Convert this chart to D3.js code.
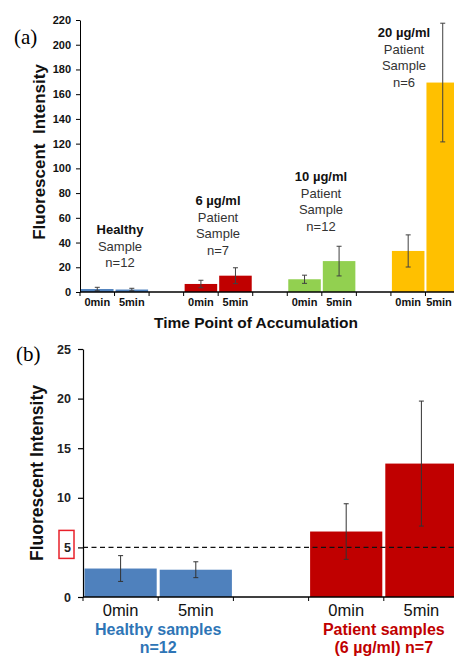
<!DOCTYPE html>
<html>
<head>
<meta charset="utf-8">
<script src="https://cdn.jsdelivr.net/npm/d3@7"></script>
<style>
  body { margin: 0; background: #fff; }
  svg { display: block; font-family: Arial, "Liberation Sans", sans-serif; }
</style>
</head>
<body>
<div id="chart"></div>
<script>
// ---- data, panel (a) ----
const groupsA = ["Healthy", "6 µg/ml", "10 µg/ml", "20 µg/ml"];
const timesA = ["0min", "5min"];
const meansA = [[2.4, 2.0], [6.5, 13.2], [10.3, 25.0], [33.2, 169.4]];
const errsA = [[1.4, 1.0], [3.0, 6.4], [3.3, 12.0], [13.0, 48.0]];
const colorsA = ["#4f81bd", "#c00000", "#92d050", "#ffc000"];
const notesA = [
  ["Healthy", "Sample", "n=12"],
  ["6 µg/ml", "Patient", "Sample", "n=7"],
  ["10 µg/ml", "Patient", "Sample", "n=12"],
  ["20 µg/ml", "Patient", "Sample", "n=6"]
];
const ticksA = [0, 20, 40, 60, 80, 100, 120, 140, 160, 180, 200, 220];

// ---- data, panel (b) ----
const groupsB = ["Healthy samples", "Patient samples"];
const subB = [["n=12"], ["(6 µg/ml) n=7"]];
const timesB = ["0min", "5min"];
const meansB = [[2.87, 2.75], [6.6, 13.45]];
const errsB = [[1.3, 0.8], [2.8, 6.3]];
const colorsB = ["#4f81bd", "#c00000"];
const textColorsB = ["#2e75b6", "#c00000"];
const ticksB = [0, 5, 10, 15, 20, 25];
const thresholdB = 5;

const W = 454, H = 657;
const svg = d3.select("#chart").append("svg").attr("width", W).attr("height", H);

// slots: 0min, 5min, gap, 0min, 5min, gap ...
function makeSlots(groups, times) {
  const s = [];
  groups.forEach((g, i) => {
    times.forEach(t => s.push(g + "|" + t));
    if (i < groups.length - 1) s.push("gap" + i);
  });
  return s;
}
function flatten(groups, times, means, errs, colors) {
  const out = [];
  groups.forEach((g, i) => times.forEach((t, j) => out.push({
    key: g + "|" + t, group: i, time: t, v: means[i][j], e: errs[i][j], color: colors[i]
  })));
  return out;
}

// =================== panel (a) ===================
const xA = d3.scaleBand().domain(makeSlots(groupsA, timesA)).range([80, 460]);
const yA = d3.scaleLinear().domain([0, 220]).range([292, 20]);
const barsA = flatten(groupsA, timesA, meansA, errsA, colorsA);
const gA = svg.append("g");

gA.selectAll(".barA").data(barsA).join("rect")
  .attr("class", "barA")
  .attr("x", d => xA(d.key) + 1)
  .attr("width", xA.bandwidth() - 2)
  .attr("y", d => yA(d.v))
  .attr("height", d => yA(0) - yA(d.v))
  .attr("fill", d => d.color);

const errA = gA.selectAll(".errA").data(barsA).join("g").attr("class", "errA")
  .attr("stroke", "#404040").attr("stroke-width", 1);
errA.append("line")
  .attr("x1", d => xA(d.key) + xA.bandwidth() / 2).attr("x2", d => xA(d.key) + xA.bandwidth() / 2)
  .attr("y1", d => yA(d.v + d.e)).attr("y2", d => yA(Math.max(0, d.v - d.e)));
[d => d.v + d.e, d => Math.max(0, d.v - d.e)].forEach(f => {
  errA.append("line")
    .attr("x1", d => xA(d.key) + xA.bandwidth() / 2 - 2.5)
    .attr("x2", d => xA(d.key) + xA.bandwidth() / 2 + 2.5)
    .attr("y1", d => yA(f(d))).attr("y2", d => yA(f(d)));
});

const axisA = gA.append("g").attr("transform", "translate(80,0)")
  .call(d3.axisLeft(yA).tickValues(ticksA).tickSize(4).tickSizeOuter(0).tickPadding(5));
axisA.selectAll("text").attr("font-size", 11).attr("font-weight", "bold").attr("fill", "#111");
axisA.selectAll("line, path").attr("stroke", "#000");

// x axis with ticks at slot boundaries
gA.append("line").attr("x1", 80).attr("x2", 460).attr("y1", yA(0)).attr("y2", yA(0))
  .attr("stroke", "#000").attr("stroke-width", 1.3);
const boundsA = xA.domain().map(k => xA(k)).concat([xA.range()[1]]);
gA.selectAll(".tickXA").data(boundsA).join("line")
  .attr("x1", d => d).attr("x2", d => d)
  .attr("y1", yA(0)).attr("y2", yA(0) + 4)
  .attr("stroke", "#000");
gA.selectAll(".lblXA").data(barsA).join("text")
  .attr("x", d => Math.min(xA(d.key) + xA.bandwidth() / 2, W - 15))
  .attr("y", 306)
  .attr("text-anchor", "middle")
  .attr("font-size", 11).attr("font-weight", "bold").attr("fill", "#111")
  .text(d => d.time);

gA.append("text").attr("x", 256).attr("y", 328).attr("text-anchor", "middle")
  .attr("font-size", 15.5).attr("font-weight", "bold").attr("fill", "#111")
  .text("Time Point of Accumulation");

gA.append("text").attr("transform", "translate(45,152) rotate(-90)")
  .attr("text-anchor", "middle").attr("font-size", 17).attr("font-weight", "bold").attr("fill", "#111")
  .attr("xml:space", "preserve")
  .text("Fluorescent  Intensity");

gA.append("text").attr("x", 14).attr("y", 44)
  .attr("font-family", "'Liberation Serif', 'Times New Roman', serif").attr("font-size", 21)
  .text("(a)");

// group annotations
const notePos = [[120, 234], [218, 205], [321, 181], [404, 37]];
notesA.forEach((lines, i) => {
  const t = gA.append("text").attr("text-anchor", "middle").attr("font-size", 13).attr("fill", "#222");
  lines.forEach((s, j) => {
    t.append("tspan").attr("x", notePos[i][0]).attr("y", notePos[i][1] + j * 16.5)
      .attr("font-weight", j === 0 ? "bold" : "normal")
      .attr("fill", j === 0 ? "#111" : "#333")
      .text(s);
  });
});

// =================== panel (b) ===================
const xB = d3.scaleBand().domain(makeSlots(groupsB, timesB)).range([83, 459]);
const yB = d3.scaleLinear().domain([0, 25]).range([597, 349]);
const barsB = flatten(groupsB, timesB, meansB, errsB, colorsB);
const gB = svg.append("g");

gB.selectAll(".barB").data(barsB).join("rect")
  .attr("class", "barB")
  .attr("x", d => xB(d.key) + 1.5)
  .attr("width", xB.bandwidth() - 3)
  .attr("y", d => yB(d.v))
  .attr("height", d => yB(0) - yB(d.v))
  .attr("fill", d => d.color);

// threshold line
gB.append("line").attr("x1", 83).attr("x2", 459)
  .attr("y1", yB(thresholdB)).attr("y2", yB(thresholdB))
  .attr("stroke", "#111").attr("stroke-width", 1.3).attr("stroke-dasharray", "5,3.5");

const errB = gB.selectAll(".errB").data(barsB).join("g").attr("class", "errB")
  .attr("stroke", "#333").attr("stroke-width", 1);
errB.append("line")
  .attr("x1", d => xB(d.key) + xB.bandwidth() / 2).attr("x2", d => xB(d.key) + xB.bandwidth() / 2)
  .attr("y1", d => yB(d.v + d.e)).attr("y2", d => yB(d.v - d.e));
[d => d.v + d.e, d => d.v - d.e].forEach(f => {
  errB.append("line")
    .attr("x1", d => xB(d.key) + xB.bandwidth() / 2 - 2.5)
    .attr("x2", d => xB(d.key) + xB.bandwidth() / 2 + 2.5)
    .attr("y1", d => yB(f(d))).attr("y2", d => yB(f(d)));
});

const axisB = gB.append("g").attr("transform", "translate(83,0)")
  .call(d3.axisLeft(yB).tickValues(ticksB).tickSize(5).tickSizeOuter(0).tickPadding(7));
axisB.selectAll("text").attr("font-size", 12.5).attr("font-weight", "bold").attr("fill", "#222");
axisB.selectAll("line, path").attr("stroke", "#000").attr("stroke-width", 1.2);

gB.append("line").attr("x1", 83).attr("x2", 459).attr("y1", yB(0)).attr("y2", yB(0))
  .attr("stroke", "#000").attr("stroke-width", 1.3);
const boundsB = xB.domain().map(k => xB(k)).concat([xB.range()[1]]);
gB.selectAll(".tickXB").data(boundsB).join("line")
  .attr("x1", d => d).attr("x2", d => d)
  .attr("y1", yB(0)).attr("y2", yB(0) + 4)
  .attr("stroke", "#000");
gB.selectAll(".lblXB").data(barsB).join("text")
  .attr("x", d => xB(d.key) + xB.bandwidth() / 2)
  .attr("y", 616)
  .attr("text-anchor", "middle")
  .attr("font-size", 16.5).attr("fill", "#111")
  .text(d => d.time);

groupsB.forEach((g, i) => {
  const cx = (xB(g + "|" + timesB[0]) + xB(g + "|" + timesB[1]) + xB.bandwidth()) / 2;
  gB.append("text").attr("x", cx).attr("y", 635).attr("text-anchor", "middle")
    .attr("font-size", 16).attr("font-weight", "bold").attr("fill", textColorsB[i]).text(g);
  gB.append("text").attr("x", cx).attr("y", 653).attr("text-anchor", "middle")
    .attr("font-size", 16).attr("font-weight", "bold").attr("fill", textColorsB[i]).text(subB[i][0]);
});

gB.append("text").attr("transform", "translate(43,473) rotate(-90)")
  .attr("text-anchor", "middle").attr("font-size", 17.5).attr("font-weight", "bold").attr("fill", "#111")
  .text("Fluorescent Intensity");

gB.append("text").attr("x", 16).attr("y", 361)
  .attr("font-family", "'Liberation Serif', 'Times New Roman', serif").attr("font-size", 21)
  .text("(b)");

// red highlight box around the threshold tick label
gB.append("rect")
  .attr("x", 59).attr("width", 15)
  .attr("y", yB(thresholdB) - 17).attr("height", 28)
  .attr("fill", "none").attr("stroke", "#e8202a").attr("stroke-width", 1.5);
</script>
</body>
</html>
